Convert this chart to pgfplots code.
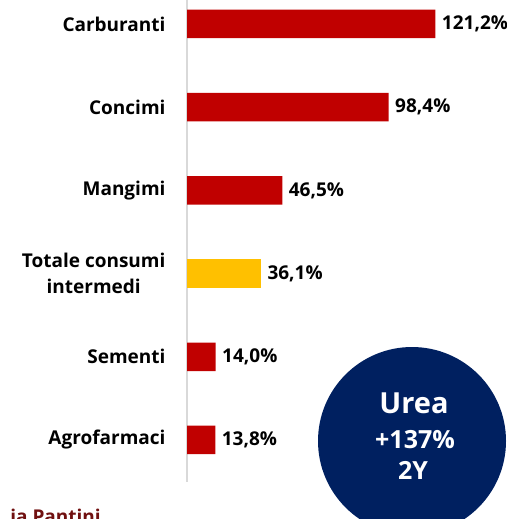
\documentclass[border=0pt]{standalone}
\usepackage{pgfplots}
\pgfplotsset{compat=1.18}
\usepackage{fontspec}
\setmainfont{Open Sans}
\newfontfamily\circfont{Open Sans}
\definecolor{barred}{RGB}{192,0,0}
\definecolor{baryel}{RGB}{255,192,0}
\definecolor{navy}{RGB}{0,32,96}
\definecolor{darkred}{RGB}{112,16,16}
\begin{document}
\begin{tikzpicture}
\useasboundingbox (0bp,0bp) rectangle (507bp,-519bp);
\clip (0bp,0bp) rectangle (507bp,-519bp);
\begin{axis}[
  at={(187bp,0bp)}, anchor=north west,
  scale only axis, width=317.75bp, height=482bp,
  xmin=0, xmax=155, ymin=-0.288, ymax=5.505,
  y dir=reverse,
  xbar, bar width=28.5bp, bar shift=0pt,
  axis x line=none, axis y line=left,
  y axis line style={-, draw=black!15, line width=1.5bp},
  ytick={0,1,2,3,4,5},
  yticklabels={Carburanti,Concimi,Mangimi,{Totale consumi\\intermedi},Sementi,Agrofarmaci},
  yticklabel style={align=center, font=\fontsize{19bp}{26bp}\selectfont\bfseries, xshift=-18bp},
  major tick length=0pt,
  point meta=x,
  nodes near coords={\pgfmathprintnumber[fixed,fixed zerofill,precision=1,use comma,assume math mode=true]{\pgfplotspointmeta}\%},
  nodes near coords style={anchor=west, xshift=3bp, font=\fontsize{19bp}{22bp}\selectfont\bfseries, text=black},
  clip=false,
]
\addplot[fill=barred, draw=none] coordinates {(121.2,0) (98.4,1) (46.5,2) (14.0,4) (13.8,5)};
\addplot[fill=baryel, draw=none] coordinates {(36.1,3)};
\end{axis}
\fill[navy] (412bp,-441bp) circle (94bp);
\node[text=white, font=\circfont\bfseries\fontsize{29bp}{33bp}\selectfont, anchor=base] at (414bp,-413bp) {Urea};
\node[text=white, font=\circfont\bfseries\fontsize{25bp}{28bp}\selectfont, anchor=base] at (415bp,-448bp) {+137\%};
\node[text=white, font=\circfont\bfseries\fontsize{25bp}{28bp}\selectfont, anchor=base] at (413bp,-479bp) {2Y};
\node[anchor=north east, inner sep=0pt, text=darkred, font=\fontsize{19bp}{22bp}\selectfont\bfseries] at (101bp,-509bp) {ia Pantini};
\end{tikzpicture}
\end{document}
